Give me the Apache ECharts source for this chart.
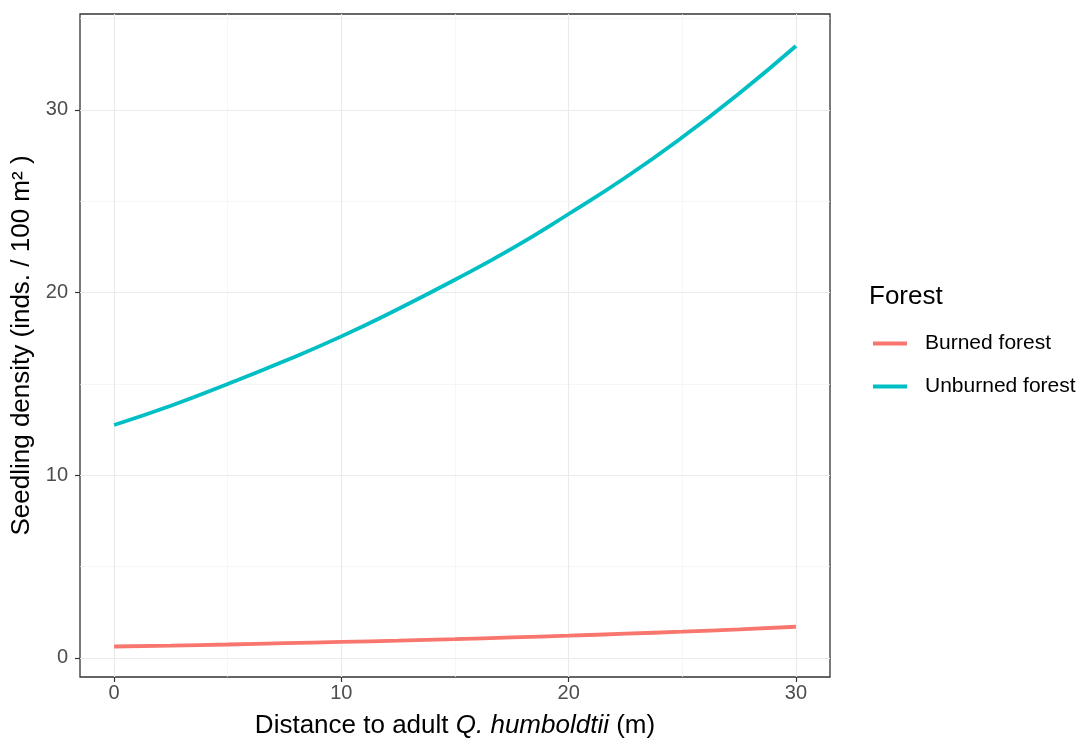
<!DOCTYPE html>
<html>
<head>
<meta charset="utf-8">
<script src="https://cdn.jsdelivr.net/npm/echarts@6/dist/echarts.min.js"></script>
<style>
  html, body { margin: 0; padding: 0; background: #ffffff; }
  #chart { width: 1081px; height: 740px; }
</style>
</head>
<body>
<div id="chart"></div>
<script>
// Distance from the adult tree (m)
const distance = [0, 2.5, 5, 7.5, 10, 12.5, 15, 17.5, 20, 22.5, 25, 27.5, 30];
// Predicted seedling density (inds. / 100 m²)
const burned   = [0.62, 0.67, 0.73, 0.80, 0.87, 0.94, 1.02, 1.12, 1.21, 1.32, 1.43, 1.56, 1.70];
const unburned = [12.75, 13.8, 14.99, 16.25, 17.6, 19.1, 20.7, 22.4, 24.3, 26.3, 28.5, 30.9, 33.5];
const seriesNames = ['Burned forest', 'Unburned forest'];
const xTicks = [0, 10, 20, 30];
const yTicks = [0, 10, 20, 30];
const xMinor = [5, 15, 25];
const yMinor = [5, 15, 25, 35];

const FONT = 'Liberation Sans, Arial, sans-serif';
const GRID_MAJOR = { color: '#EBEBEB', width: 1.2, type: 'solid' };
const GRID_MINOR = { color: '#F2F2F2', width: 0.7, type: 'solid' };

const pair = ys => distance.map((d, i) => [d, ys[i]]);

const gridLines = []
  .concat(xMinor.map(v => ({ xAxis: v, lineStyle: GRID_MINOR })))
  .concat(yMinor.map(v => ({ yAxis: v, lineStyle: GRID_MINOR })))
  .concat(xTicks.map(v => ({ xAxis: v, lineStyle: GRID_MAJOR })))
  .concat(yTicks.map(v => ({ yAxis: v, lineStyle: GRID_MAJOR })));

const chart = echarts.init(document.getElementById('chart'), null, { renderer: 'canvas' });
chart.setOption({
  animation: false,
  backgroundColor: '#ffffff',
  textStyle: { fontFamily: FONT },
  title: {
    text: 'Forest',
    left: 869, top: 284, padding: 0,
    textStyle: { fontFamily: FONT, fontSize: 26, fontWeight: 'normal', color: '#000000' }
  },
  legend: {
    data: seriesNames,
    orient: 'vertical',
    left: 873, top: 333, padding: 0,
    itemWidth: 34, itemHeight: 4, itemGap: 22,
    icon: 'rect',
    textStyle: { fontFamily: FONT, fontSize: 21, color: '#000000', padding: [0, 0, 0, 13] }
  },
  grid: {
    left: 80, right: 251, top: 14, bottom: 63,
    outerBoundsMode: 'none', containLabel: false,
    show: true, borderColor: '#333333', borderWidth: 1.3, backgroundColor: '#ffffff'
  },
  xAxis: {
    type: 'value', min: -1.5, max: 31.5,
    name: '{n|Distance to adult }{i|Q. humboldtii}{n| (m)}',
    nameLocation: 'middle', nameGap: 36,
    nameTextStyle: {
      rich: {
        n: { fontFamily: FONT, fontSize: 26, color: '#000000' },
        i: { fontFamily: FONT, fontSize: 26, color: '#000000', fontStyle: 'italic' }
      }
    },
    axisLine: { show: false, onZero: false },
    axisTick: { show: true, length: 5, customValues: xTicks, lineStyle: { color: '#333333', width: 1.2 } },
    axisLabel: { customValues: xTicks, margin: 6, fontSize: 20, color: '#4D4D4D', fontFamily: FONT },
    splitLine: { show: false }
  },
  yAxis: {
    type: 'value', min: -1.05, max: 35.25,
    name: 'Seedling density (inds. / 100 m² )',
    nameLocation: 'middle', nameGap: 45,
    nameTextStyle: { fontFamily: FONT, fontSize: 26, color: '#000000' },
    axisLine: { show: false, onZero: false },
    axisTick: { show: true, length: 5, customValues: yTicks, lineStyle: { color: '#333333', width: 1.2 } },
    axisLabel: { customValues: yTicks, margin: 12, fontSize: 20, color: '#4D4D4D', fontFamily: FONT },
    splitLine: { show: false }
  },
  series: [
    {
      name: '_grid', type: 'line', data: [], z: 0, silent: true,
      markLine: { silent: true, z: 0, symbol: 'none', label: { show: false }, animation: false, data: gridLines }
    },
    {
      name: seriesNames[0], type: 'line', data: pair(burned), smooth: true, showSymbol: false, z: 3,
      color: '#F8766D', lineStyle: { color: '#F8766D', width: 3.8 }
    },
    {
      name: seriesNames[1], type: 'line', data: pair(unburned), smooth: true, showSymbol: false, z: 3,
      color: '#00BFC4', lineStyle: { color: '#00BFC4', width: 3.8 }
    }
  ]
});
</script>
</body>
</html>
